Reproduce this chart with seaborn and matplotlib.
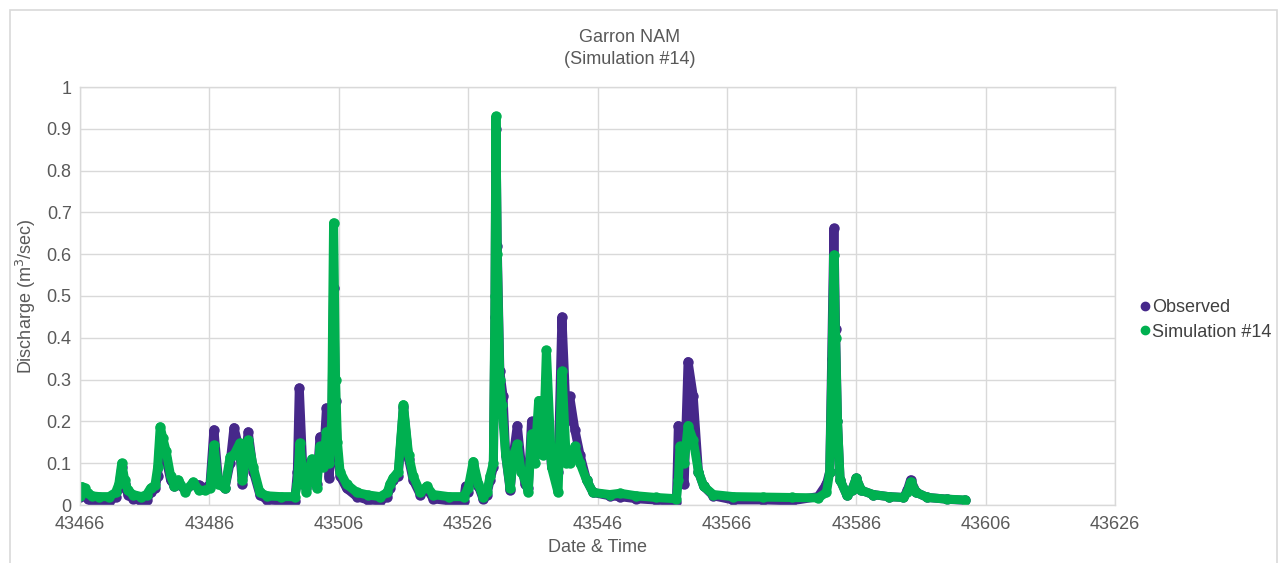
import seaborn as sns
import matplotlib
matplotlib.use("Agg")
import matplotlib.pyplot as plt
from matplotlib.lines import Line2D
from matplotlib.patches import Rectangle
import pandas as pd

sns.set_style("white")
plt.rcParams['font.family'] = ['Liberation Sans', 'DejaVu Sans']

start = 43466

# simulated discharge (days after start, m3/sec)
sim_day = [0.0, 0.3, 0.7, 1.2, 1.8, 3.0, 4.5, 5.5, 6.0, 6.45, 6.9, 7.4, 8.2, 9.5,
           10.3, 10.9, 11.6, 12.0, 12.4, 12.8, 13.3, 14.0, 14.6, 15.2, 16.3, 17.5,
           18.4, 19.3, 20.1, 20.7, 21.4, 22.4, 23.2, 23.8, 24.7, 25.1, 26.0, 26.8,
           27.8, 28.9, 31.0, 33.2, 33.6, 34.0, 34.4, 35.0, 35.8, 36.6, 37.1, 37.6,
           38.1, 38.5, 38.9, 39.2, 39.5, 39.8, 40.2, 41.2, 42.8, 44.5, 46.4, 47.5,
           47.9, 48.4, 49.2, 50.0, 50.8, 51.5, 52.6, 53.6, 54.6, 57.0, 59.3, 60.0,
           60.8, 61.6, 62.3, 62.9, 63.4, 63.9, 64.15, 64.3, 64.5, 64.9, 65.2, 65.8,
           66.5, 67.0, 67.6, 68.2, 68.8, 69.3, 69.8, 70.3, 70.9, 71.6, 72.1, 72.9,
           73.9, 74.5, 75.2, 75.7, 76.5, 77.3, 78.3, 79.3, 81.9, 83.5, 86.0, 89.0,
           92.2, 92.5, 92.75, 93.4, 94.0, 94.8, 95.6, 96.4, 97.9, 101.0, 105.6,
           110.0, 114.1, 115.4, 115.9, 116.2, 116.55, 116.8, 117.1, 117.5, 118.5,
           119.3, 120.0, 120.8, 122.6, 125.0, 127.3, 127.9, 128.4, 129.3, 131.0,
           134.0, 136.8]
sim_q = [0.022, 0.044, 0.040, 0.028, 0.022, 0.020, 0.020, 0.030, 0.050, 0.100, 0.060,
         0.035, 0.025, 0.020, 0.025, 0.040, 0.048, 0.090, 0.187, 0.160, 0.130, 0.070,
         0.045, 0.060, 0.032, 0.055, 0.035, 0.035, 0.040, 0.143, 0.050, 0.040, 0.115,
         0.120, 0.148, 0.060, 0.155, 0.090, 0.030, 0.022, 0.020, 0.020, 0.050, 0.148,
         0.080, 0.030, 0.110, 0.040, 0.140, 0.090, 0.175, 0.100, 0.200, 0.675, 0.300,
         0.150, 0.080, 0.050, 0.030, 0.024, 0.020, 0.030, 0.050, 0.065, 0.080, 0.240,
         0.120, 0.070, 0.030, 0.045, 0.025, 0.020, 0.020, 0.040, 0.104, 0.050, 0.020,
         0.030, 0.070, 0.100, 0.500, 0.930, 0.600, 0.300, 0.240, 0.120, 0.040, 0.120,
         0.145, 0.080, 0.060, 0.030, 0.170, 0.100, 0.250, 0.120, 0.370, 0.090, 0.030,
         0.320, 0.100, 0.100, 0.140, 0.100, 0.060, 0.030, 0.025, 0.028, 0.022, 0.018,
         0.015, 0.060, 0.140, 0.100, 0.190, 0.155, 0.080, 0.045, 0.025, 0.020, 0.019,
         0.018, 0.017, 0.030, 0.080, 0.300, 0.598, 0.400, 0.200, 0.060, 0.025, 0.035,
         0.064, 0.035, 0.025, 0.020, 0.018, 0.030, 0.055, 0.030, 0.018, 0.014, 0.012]

# observed discharge
obs_day = [0.0, 0.3, 0.7, 1.2, 1.8, 3.0, 4.5, 5.5, 6.0, 6.45, 6.9, 7.4, 8.2, 9.5,
           10.3, 10.9, 11.6, 12.0, 12.4, 12.8, 13.3, 14.0, 14.6, 15.2, 16.3, 17.5,
           18.4, 19.3, 20.1, 20.7, 21.4, 22.4, 23.2, 23.8, 24.7, 25.1, 26.0, 26.8,
           27.8, 28.9, 31.0, 33.2, 33.6, 33.9, 34.4, 35.0, 35.8, 36.6, 37.1, 37.6,
           38.1, 38.5, 38.9, 39.2, 39.5, 39.8, 40.2, 41.2, 42.8, 44.5, 46.4, 47.5,
           47.9, 48.4, 49.2, 50.0, 50.8, 51.5, 52.6, 53.6, 54.6, 57.0, 59.3, 59.6,
           60.0, 60.8, 61.6, 62.3, 62.9, 63.4, 63.9, 64.15, 64.3, 64.5, 64.9, 65.4,
           65.8, 66.5, 67.0, 67.6, 68.2, 68.8, 69.3, 69.8, 70.3, 70.9, 71.6, 72.1,
           72.9, 73.9, 74.5, 75.2, 75.7, 76.5, 77.3, 78.3, 79.3, 81.9, 83.5, 86.0,
           89.0, 92.2, 92.5, 92.75, 93.4, 94.0, 94.8, 95.6, 96.4, 97.9, 101.0,
           105.6, 110.0, 114.1, 115.4, 115.9, 116.2, 116.55, 116.8, 117.1, 117.5,
           118.5, 119.3, 120.0, 120.8, 122.6, 125.0, 127.3, 127.9, 128.4, 129.3,
           131.0, 134.0, 136.8]
obs_q = [0.018, 0.035, 0.030, 0.015, 0.010, 0.008, 0.008, 0.020, 0.040, 0.090, 0.050,
         0.025, 0.015, 0.010, 0.012, 0.030, 0.040, 0.070, 0.160, 0.140, 0.110, 0.060,
         0.045, 0.050, 0.035, 0.050, 0.048, 0.040, 0.050, 0.180, 0.060, 0.040, 0.100,
         0.185, 0.130, 0.050, 0.175, 0.080, 0.025, 0.012, 0.010, 0.010, 0.080, 0.280,
         0.100, 0.040, 0.105, 0.050, 0.163, 0.100, 0.232, 0.065, 0.150, 0.520, 0.250,
         0.120, 0.070, 0.040, 0.020, 0.012, 0.010, 0.020, 0.040, 0.060, 0.070, 0.235,
         0.110, 0.060, 0.025, 0.040, 0.015, 0.010, 0.010, 0.045, 0.030, 0.095, 0.045,
         0.015, 0.025, 0.060, 0.090, 0.450, 0.900, 0.620, 0.320, 0.260, 0.120, 0.035,
         0.120, 0.190, 0.100, 0.050, 0.040, 0.200, 0.120, 0.220, 0.200, 0.250, 0.090,
         0.080, 0.450, 0.200, 0.260, 0.180, 0.120, 0.060, 0.030, 0.022, 0.020, 0.015,
         0.012, 0.008, 0.190, 0.100, 0.050, 0.343, 0.260, 0.080, 0.045, 0.022, 0.012,
         0.012, 0.010, 0.020, 0.050, 0.080, 0.350, 0.662, 0.420, 0.200, 0.060, 0.025,
         0.035, 0.064, 0.035, 0.025, 0.020, 0.018, 0.035, 0.060, 0.030, 0.018, 0.014,
         0.011]

obs = pd.DataFrame({"t": [start + d for d in obs_day], "q": obs_q})
sim = pd.DataFrame({"t": [start + d for d in sim_day], "q": sim_q})

purple = "#46288A"
green = "#00B050"
grey_txt = "#595959"
grid_c = "#d9d9d9"

fig = plt.figure(figsize=(12.79, 5.63), dpi=100)
fig.patches.append(Rectangle((10 / 1279, -0.02), 1267 / 1279, 553 / 563 + 0.02,
                             transform=fig.transFigure, fill=False,
                             edgecolor=grid_c, linewidth=1.2))
ax = fig.add_axes([80 / 1279, 58 / 563, 1035 / 1279, 418 / 563])

sns.lineplot(data=obs, x="t", y="q", ax=ax, color=purple, linewidth=6.5,
             marker="o", markersize=7.5, markeredgewidth=0, sort=False,
             estimator=None, legend=False, solid_capstyle="round",
             solid_joinstyle="round")
sns.lineplot(data=sim, x="t", y="q", ax=ax, color=green, linewidth=6.5,
             marker="o", markersize=7.5, markeredgewidth=0, sort=False,
             estimator=None, legend=False, solid_capstyle="round",
             solid_joinstyle="round")

ax.set_xlim(43466, 43626)
ax.set_ylim(0, 1)
ax.set_xticks(range(43466, 43627, 20))
ax.set_yticks([i / 10 for i in range(11)])
ax.set_yticklabels(["0"] + [f"{i / 10:.1f}" for i in range(1, 10)] + ["1"])
ax.set_xticklabels([str(v) for v in range(43466, 43627, 20)])
ax.grid(True, color=grid_c, linewidth=1)
ax.set_axisbelow(True)
for s in ax.spines.values():
    s.set_color(grid_c)
    s.set_linewidth(1)
ax.tick_params(axis="y", length=0, labelsize=13, colors=grey_txt, pad=6)
ax.tick_params(axis="x", length=0, labelsize=13, colors=grey_txt, pad=8)

ax.set_xlabel("Date & Time", fontsize=13, color=grey_txt, labelpad=4)
ax.set_ylabel("Discharge (m$^3$/sec)", fontsize=13, color=grey_txt, labelpad=6)

fig.text(630 / 1279, 1 - 37 / 563, "Garron NAM", ha="center", va="center",
         fontsize=13, color=grey_txt)
fig.text(630 / 1279, 1 - 60 / 563, "(Simulation #14)", ha="center", va="center",
         fontsize=13, color=grey_txt)

handles = [Line2D([], [], color=purple, marker="o", linestyle="none", markersize=6),
           Line2D([], [], color=green, marker="o", linestyle="none", markersize=6)]
fig.legend(handles, ["Observed", "Simulation #14"], loc="center left",
           bbox_to_anchor=(1140 / 1279, 1 - 320 / 563), frameon=False,
           fontsize=13, handlelength=0.6, handletextpad=0.05, labelspacing=0.42,
           borderpad=0, borderaxespad=0, labelcolor="#404040")

fig.savefig("out.png", dpi=100)
